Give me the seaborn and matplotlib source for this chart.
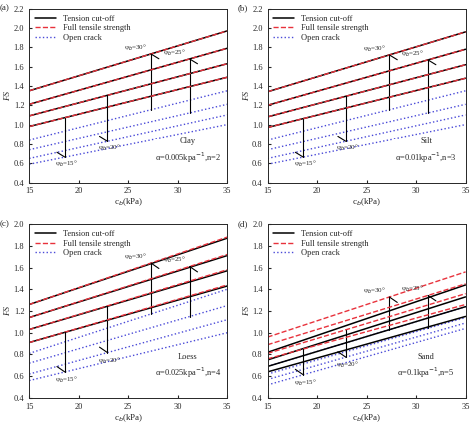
import numpy as np
import pandas as pd
import seaborn as sns
import matplotlib.pyplot as plt

sns.set_style("ticks")
plt.rcParams['font.family'] = ['Liberation Serif', 'DejaVu Serif']

cb = [15, 35]
phis = [30, 25, 20, 15]
panels = ['(a)', '(b)', '(c)', '(d)']
soils = ['Clay', 'Silt', 'Loess', 'Sand']
params = ['α=0.005kpa$^{-1}$,n=2', 'α=0.01kpa$^{-1}$,n=3',
          'α=0.025kpa$^{-1}$,n=4', 'α=0.1kpa$^{-1}$,n=5']
ylims = [(0.4, 2.2), (0.4, 2.2), (0.4, 2.0), (0.4, 2.0)]

# FS at cb=15 and cb=35 for phi = 30, 25, 20, 15
tension = [
    [(1.35, 1.97), (1.21, 1.79), (1.09, 1.63), (0.98, 1.49)],
    [(1.34, 1.96), (1.20, 1.78), (1.08, 1.62), (0.97, 1.48)],
    [(1.26, 1.87), (1.14, 1.71), (1.03, 1.57), (0.91, 1.43)],
    [(0.82, 1.44), (0.75, 1.33), (0.69, 1.24), (0.64, 1.15)],
]
full = [
    [(1.35, 1.97), (1.21, 1.79), (1.09, 1.63), (0.98, 1.49)],
    [(1.34, 1.96), (1.20, 1.78), (1.08, 1.62), (0.97, 1.48)],
    [(1.26, 1.88), (1.14, 1.72), (1.03, 1.58), (0.91, 1.44)],
    [(0.96, 1.56), (0.89, 1.45), (0.81, 1.36), (0.76, 1.26)],
]
opencrack = [
    [(0.84, 1.35), (0.74, 1.21), (0.65, 1.10), (0.59, 1.00)],
    [(0.84, 1.35), (0.74, 1.21), (0.65, 1.10), (0.59, 1.00)],
    [(0.81, 1.40), (0.72, 1.25), (0.62, 1.12), (0.56, 1.00)],
    [(0.69, 1.24), (0.62, 1.14), (0.57, 1.09), (0.52, 1.04)],
]
ann_x = [27.3, 31.2, 22.9, 18.6]  # cb where each phi bracket is drawn

fig, axes = plt.subplots(2, 2, figsize=(4.74, 4.28), dpi=100)
for k, ax in enumerate(axes.flat):
    for i in range(4):
        sns.lineplot(x=cb, y=list(tension[k][i]), ax=ax, color='black', lw=1.1,
                     label='Tension cut-off' if i == 0 else None)
        sns.lineplot(x=cb, y=list(full[k][i]), ax=ax, color='#e8323c', lw=1.0,
                     dashes=(5, 3), linestyle='--',
                     label='Full tensile strength' if i == 0 else None)
        sns.lineplot(x=cb, y=list(opencrack[k][i]), ax=ax, color='#4a4ad8', lw=1.0,
                     linestyle=':', label='Open crack' if i == 0 else None)
        # bracket between open crack and upper curve
        x = ann_x[i]
        t = (x - 15) / 20
        lo = opencrack[k][i][0] + t * (opencrack[k][i][1] - opencrack[k][i][0])
        hi = max(tension[k][i][0] + t * (tension[k][i][1] - tension[k][i][0]),
                 full[k][i][0] + t * (full[k][i][1] - full[k][i][0]))
        ax.plot([x, x], [lo, hi], color='black', lw=0.8)
        if i < 2:
            ax.plot([x, x + 0.8], [hi, hi - 0.05], color='black', lw=0.8)
            ax.text(x - 0.4, hi + 0.04, f'φ$_b$={phis[i]}°', fontsize=5, ha='right')
        else:
            ax.plot([x, x - 0.8], [lo, lo + 0.05], color='black', lw=0.8)
            ax.text(x + 0.2, lo - 0.09, f'φ$_b$={phis[i]}°', fontsize=5, ha='center')
    ax.set_xlim(15, 35)
    ax.set_ylim(*ylims[k])
    ax.set_xticks([15, 20, 25, 30, 35])
    ax.set_yticks(np.arange(0.4, ylims[k][1] + 0.01, 0.2))
    ax.tick_params(labelsize=6, direction='in', length=2)
    ax.set_xlabel('c$_b$(kPa)', fontsize=6.5, labelpad=1)
    ax.set_ylabel('FS', fontsize=6.5, style='italic', labelpad=1)
    ax.text(-0.15, 0.99, panels[k], transform=ax.transAxes, fontsize=6.5)
    ax.text(0.8, 0.18, soils[k] + '\n' + params[k], transform=ax.transAxes,
            fontsize=6, ha='center', va='center', linespacing=1.5,
            bbox=dict(facecolor='white', edgecolor='none', pad=0.5))
    ax.legend(loc='upper left', fontsize=6, frameon=False, handlelength=2.5,
              labelspacing=0.2, borderaxespad=0.3)
    for s in ax.spines.values():
        s.set_linewidth(0.7)

plt.tight_layout(pad=0.3, w_pad=0.8, h_pad=0.8)
plt.savefig('out.png', dpi=100)
